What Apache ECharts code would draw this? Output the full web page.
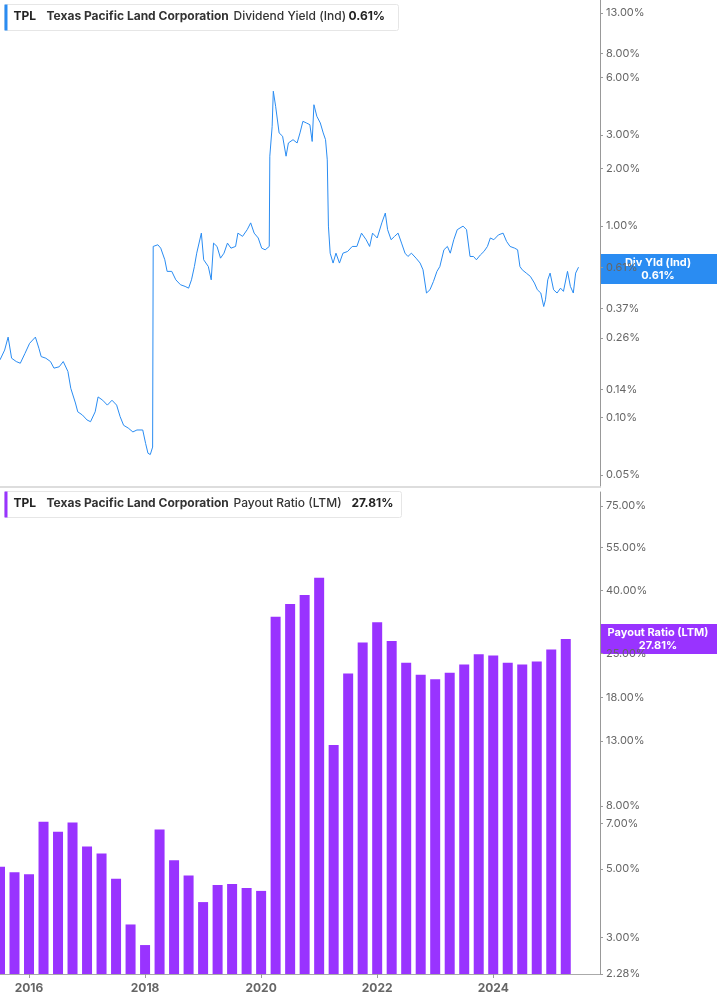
<!DOCTYPE html>
<html><head><meta charset="utf-8">
<script src="https://cdn.jsdelivr.net/npm/echarts@6/dist/echarts.min.js"></script>
<style>html,body{margin:0;padding:0;background:#fff}#c{width:717px;height:1005px}</style>
</head><body><div id="c"></div>
<script>
// dividend yield (%), [decimal year, value]
var yieldData = [
 [2015.50,0.200],[2015.58,0.225],[2015.64,0.263],[2015.70,0.204],[2015.78,0.196],[2015.85,0.192],[2015.93,0.216],
 [2016.01,0.244],[2016.11,0.263],[2016.17,0.230],[2016.21,0.208],[2016.29,0.204],[2016.37,0.196],[2016.43,0.181],
 [2016.52,0.184],[2016.59,0.196],[2016.67,0.174],[2016.72,0.142],[2016.80,0.119],[2016.84,0.107],[2016.92,0.103],
 [2017.00,0.097],[2017.06,0.095],[2017.14,0.107],[2017.19,0.128],[2017.27,0.123],[2017.35,0.116],[2017.43,0.123],
 [2017.51,0.116],[2017.57,0.101],[2017.63,0.091],[2017.71,0.088],[2017.79,0.084],[2017.86,0.086],[2017.96,0.086],
 [2018.01,0.073],[2018.05,0.065],[2018.09,0.064],[2018.13,0.070],[2018.14,0.783],[2018.22,0.799],[2018.27,0.767],
 [2018.34,0.667],[2018.38,0.580],[2018.46,0.580],[2018.53,0.524],[2018.61,0.494],[2018.69,0.484],[2018.75,0.474],
 [2018.80,0.524],[2018.85,0.615],[2018.89,0.722],[2018.97,0.919],[2019.01,0.667],[2019.09,0.615],[2019.14,0.524],
 [2019.18,0.815],[2019.24,0.783],[2019.30,0.680],[2019.36,0.722],[2019.42,0.815],[2019.48,0.767],[2019.56,0.783],
 [2019.60,0.919],[2019.68,0.884],[2019.76,0.958],[2019.82,1.04],[2019.88,0.919],[2019.95,0.867],[2020.01,0.767],
 [2020.07,0.752],[2020.14,0.783],[2020.15,2.32],[2020.19,3.32],[2020.21,5.07],[2020.25,4.23],[2020.31,3.07],
 [2020.37,2.95],[2020.43,2.32],[2020.47,2.72],[2020.55,2.83],[2020.62,2.72],[2020.67,3.07],[2020.72,3.53],
 [2020.78,3.46],[2020.84,3.39],[2020.88,2.77],[2020.91,4.31],[2020.96,3.75],[2021.02,3.46],[2021.07,3.07],
 [2021.11,2.83],[2021.14,2.22],[2021.16,1.00],[2021.19,0.722],[2021.24,0.641],[2021.29,0.722],[2021.35,0.641],
 [2021.41,0.722],[2021.49,0.737],[2021.57,0.783],[2021.65,0.783],[2021.73,0.919],[2021.81,0.849],[2021.87,0.783],
 [2021.92,0.919],[2022.00,0.867],[2022.08,1.04],[2022.14,1.17],[2022.18,0.958],[2022.24,0.849],[2022.30,0.884],
 [2022.36,0.919],[2022.42,0.815],[2022.48,0.722],[2022.53,0.694],[2022.59,0.722],[2022.67,0.680],[2022.74,0.641],
 [2022.79,0.591],[2022.85,0.447],[2022.91,0.465],[2022.97,0.514],[2023.03,0.580],[2023.08,0.615],[2023.15,0.752],
 [2023.21,0.783],[2023.26,0.722],[2023.32,0.849],[2023.38,0.958],[2023.48,1.00],[2023.54,0.958],[2023.60,0.694],
 [2023.66,0.694],[2023.71,0.667],[2023.78,0.708],[2023.84,0.737],[2023.90,0.783],[2023.95,0.867],[2024.01,0.849],
 [2024.09,0.900],[2024.17,0.919],[2024.23,0.832],[2024.29,0.783],[2024.37,0.767],[2024.42,0.752],[2024.46,0.615],
 [2024.50,0.591],[2024.57,0.568],[2024.64,0.546],[2024.71,0.504],[2024.76,0.465],[2024.82,0.447],[2024.87,0.380],
 [2024.90,0.412],[2024.94,0.524],[2024.98,0.568],[2025.04,0.465],[2025.10,0.447],[2025.16,0.474],[2025.21,0.456],
 [2025.28,0.580],[2025.33,0.484],[2025.38,0.447],[2025.42,0.568],[2025.47,0.610]
];
// payout ratio LTM (%), quarterly from 2015-Q2 to 2025-Q1
var payoutQuarters = [];
for (var i = 0; i < 40; i++) payoutQuarters.push(2015.5 + i * 0.25);
var payoutValues = [5.08,4.87,4.80,7.10,6.59,7.07,5.91,5.61,4.64,3.30,2.83,6.71,5.33,4.76,3.90,4.43,4.46,4.33,4.24,
 32.8,36.1,38.6,43.9,12.6,21.5,27.1,31.5,27.4,23.3,21.3,20.6,21.6,23.0,24.8,24.6,23.3,23.0,23.5,25.7,27.81];
var yearTicks = [2016,2018,2020,2022,2024];
var yieldTicks = [0.05,0.10,0.14,0.26,0.37,0.61,1.00,2.00,3.00,6.00,8.00,13.00];
var payoutTicks = [2.28,3,5,7,8,13,18,25,40,55,75];

var font = 'Inter, "Noto Sans", sans-serif';
var chart = echarts.init(document.getElementById('c'));
function yAxis(idx, min, max, ticks) {
  return {
    type: 'log', gridIndex: idx, position: 'right', min: min, max: max, logBase: 10,
    axisLine: {show: true, lineStyle: {color: '#999'}},
    axisTick: {show: true, length: 3, customValues: ticks, lineStyle: {color: '#999'}},
    axisLabel: {customValues: ticks, color: '#666', fontSize: 11, fontFamily: font, margin: 6,
      formatter: function (v) { return v.toFixed(2) + '%'; }},
    splitLine: {show: false}
  };
}
function xAxis(idx, labels) {
  return {
    type: 'value', gridIndex: idx, min: 2015.5, max: 2025.84,
    axisLine: {show: true, onZero: false, lineStyle: {color: labels ? '#aaa' : '#ddd', width: labels ? 1 : 2}},
    axisTick: {show: labels, customValues: yearTicks, length: 4, lineStyle: {color: '#999'}},
    axisLabel: {show: labels, customValues: yearTicks, color: '#666', fontSize: 12, fontWeight: 'bold', fontFamily: font,
      formatter: function (v) { return String(Math.round(v)); }},
    splitLine: {show: false}
  };
}
function legendBox(y, color, w, label, val) {
  return {type: 'group', left: 4, top: y, children: [
    {type: 'rect', shape: {x: 0, y: 0, width: w, height: 26, r: 2}, style: {fill: '#fff', stroke: '#e6e6e6', lineWidth: 1}},
    {type: 'rect', shape: {x: 0, y: 0, width: 3, height: 26}, style: {fill: color}},
    {type: 'text', x: 9, y: 6, style: {text: 'TPL', font: 'bold 12px ' + font, fill: '#222'}},
    {type: 'text', x: 42, y: 6, style: {text: 'Texas Pacific Land Corporation', font: 'bold 12px ' + font, fill: '#333'}},
    {type: 'text', x: 229, y: 6, style: {text: label, font: '500 12px ' + font, fill: '#333'}},
    {type: 'text', x: w - 50, y: 6, style: {text: val, font: 'bold 12px ' + font, fill: '#222'}}
  ]};
}
function tag(y, color, t1, t2) {
  return {type: 'group', left: 600, top: y, children: [
    {type: 'rect', shape: {x: 0, y: 0, width: 117, height: 30}, style: {fill: color}},
    {type: 'text', x: 58, y: 2, style: {text: t1 + '\n' + t2, font: 'bold 11px ' + font, fill: '#fff', align: 'center', lineHeight: 13}}
  ]};
}
chart.setOption({
  animation: false,
  grid: [
    {left: 0, right: 117, top: 0, height: 487},
    {left: 0, right: 117, top: 492, bottom: 31}
  ],
  xAxis: [xAxis(0, false), xAxis(1, true)],
  yAxis: [yAxis(0, 0.0433, 15.2, yieldTicks), yAxis(1, 2.28, 83.3, payoutTicks)],
  series: [
    {type: 'line', xAxisIndex: 0, yAxisIndex: 0, data: yieldData, showSymbol: false,
      lineStyle: {color: '#2a8cf2', width: 1}, clip: true},
    {type: 'bar', xAxisIndex: 1, yAxisIndex: 1, barWidth: 10,
      data: payoutQuarters.map(function (q, i) { return [q, payoutValues[i]]; }),
      itemStyle: {color: '#9933ff'}}
  ],
  graphic: [
    legendBox(4, '#2a8cf2', 394, 'Dividend Yield (Ind)', '0.61%'),
    legendBox(491, '#9933ff', 397, 'Payout Ratio (LTM)', '27.81%'),
    tag(254, '#2a8cf2', 'Div Yld (Ind)', '0.61%'),
    tag(624, '#9933ff', 'Payout Ratio (LTM)', '27.81%')
  ]
});
</script></body></html>
